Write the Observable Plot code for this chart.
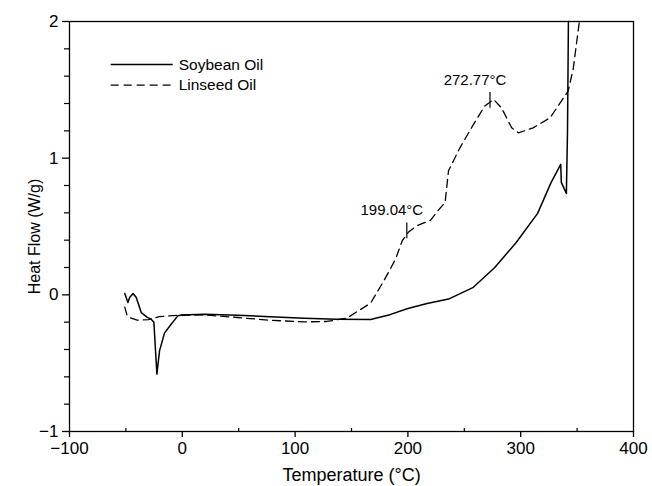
<!DOCTYPE html>
<html>
<head>
<meta charset="utf-8">
<script src="https://cdn.jsdelivr.net/npm/d3@7"></script>
<script src="https://cdn.jsdelivr.net/npm/@observablehq/plot@0.6"></script>
<style>
  body { margin: 0; background: #fff; }
  #chart svg { display: block; }
</style>
</head>
<body>
<div id="chart"></div>
<script>
// ---- Data ----
const soybeanTemp = [-51, -48.2, -46.7, -43.7, -40.8, -36.4, -31, -27.6, -25.2, -23.8, -22.5, -20.2, -15.8, -9.9, -4, -1, 19.5, 49, 78, 108, 137, 167, 184, 200, 217, 236, 258, 277, 296, 315, 327, 335.5, 336, 340.5, 341.5, 342.3];
const soybeanHeatFlow = [0.01, -0.056, -0.02, 0.01, -0.02, -0.13, -0.165, -0.178, -0.2, -0.4, -0.58, -0.41, -0.28, -0.215, -0.154, -0.147, -0.142, -0.149, -0.161, -0.171, -0.178, -0.181, -0.145, -0.1, -0.064, -0.031, 0.055, 0.2, 0.383, 0.596, 0.823, 0.955, 0.823, 0.742, 1.2, 2.0];

const linseedTemp = [-51, -49, -47, -40, -30, -20.5, -12, -4, 19.5, 49, 78, 108, 128, 146, 167, 178.5, 189, 195, 200.6, 208, 220, 226, 233, 236, 246, 258, 268, 276, 283, 292, 298, 311, 326, 342, 346.5, 352];
const linseedHeatFlow = [-0.09, -0.15, -0.166, -0.185, -0.182, -0.16, -0.154, -0.15, -0.147, -0.166, -0.186, -0.198, -0.195, -0.17, -0.06, 0.1, 0.26, 0.396, 0.46, 0.506, 0.545, 0.61, 0.676, 0.908, 1.074, 1.245, 1.38, 1.43, 1.368, 1.222, 1.185, 1.222, 1.295, 1.49, 1.65, 2.0];

// annotated transition temperatures on the linseed curve
const annotTemp = [199.04, 272.77];
const annotHeatFlow = [0.465, 1.42];
const annotLabels = ["199.04°C", "272.77°C"];

// axis ticks
const xMajorTicks = [-100, 0, 100, 200, 300, 400];
const xMinorTicks = [-50, 50, 150, 250, 350];
const yMajorTicks = [-1, 0, 1, 2];
const yMinorTicks = [-0.8, -0.6, -0.4, -0.2, 0.2, 0.4, 0.6, 0.8, 1.2, 1.4, 1.6, 1.8];

// legend
const legendNames = ["Soybean Oil", "Linseed Oil"];
const legendX = [-63.5, -8.5, -3.2];   // line start, line end, text start (°C)
const legendY = [1.685, 1.535];         // row positions (W/g)

// ---- Build ----
const soybean = soybeanTemp.map((t, i) => ({t, hf: soybeanHeatFlow[i]}));
const linseed = linseedTemp.map((t, i) => ({t, hf: linseedHeatFlow[i]}));
const annots = annotTemp.map((t, i) => ({t, hf: annotHeatFlow[i], label: annotLabels[i]}));
const legend = legendNames.map((name, i) => ({name, y: legendY[i]}));
const fmt = d => d < 0 ? "\u2212" + Math.abs(d) : String(d);
const font = "'Liberation Sans', Arial, Helvetica, sans-serif";

const chart = Plot.plot({
  width: 652,
  height: 486,
  marginLeft: 69,
  marginRight: 19,
  marginTop: 21,
  marginBottom: 55,
  x: {domain: [-100, 400]},
  y: {domain: [-1, 2]},
  style: {fontFamily: font, fontSize: "18px", color: "#000", background: "#fff", overflow: "visible"},
  marks: [
    Plot.frame({stroke: "#000", strokeWidth: 1.3}),
    // x axis: major outward ticks with labels, minor inward ticks
    Plot.axisX(xMajorTicks, {tickSize: 6, tickPadding: 4, tickFormat: fmt, fontSize: 17, label: null, strokeWidth: 1.3}),
    Plot.axisX(xMinorTicks, {tickSize: -3, tickFormat: () => "", label: null, strokeWidth: 1.2}),
    // y axis: outward ticks
    Plot.axisY(yMajorTicks, {tickSize: 7, tickPadding: 4, tickFormat: fmt, fontSize: 17, label: null, strokeWidth: 1.3}),
    Plot.axisY(yMinorTicks, {tickSize: 5, tickFormat: () => "", label: null, strokeWidth: 1.2}),
    // axis titles
    Plot.text(["Temperature (°C)"], {frameAnchor: "bottom", lineAnchor: "middle", dy: 44, fontSize: 18, text: d => d}),
    Plot.text(["Heat Flow (W/g)"], {frameAnchor: "left", textAnchor: "middle", lineAnchor: "middle", dx: -35, dy: 10, rotate: -90, fontSize: 16, text: d => d}),
    // curves
    Plot.line(soybean, {x: "t", y: "hf", stroke: "#000", strokeWidth: 1.5}),
    Plot.line(linseed, {x: "t", y: "hf", stroke: "#000", strokeWidth: 1.3, strokeDasharray: "8,5"}),
    // annotation markers and labels
    Plot.ruleX(annots, {x: "t", y1: d => d.hf - 0.055, y2: d => d.hf + 0.06, stroke: "#000", strokeWidth: 1.2}),
    Plot.text(annots, {x: "t", y: "hf", text: "label", dx: -15, dy: -21, fontSize: 15}),
    // legend
    Plot.link(legend.slice(0, 1), {x1: legendX[0], x2: legendX[1], y1: "y", y2: "y", stroke: "#000", strokeWidth: 1.4}),
    Plot.link(legend.slice(1), {x1: legendX[0], x2: legendX[1], y1: "y", y2: "y", stroke: "#000", strokeWidth: 1.3, strokeDasharray: "8,5"}),
    Plot.text(legend, {x: legendX[2], y: "y", text: "name", textAnchor: "start", fontSize: 15.5})
  ]
});

document.getElementById("chart").appendChild(chart);
</script>
</body>
</html>
